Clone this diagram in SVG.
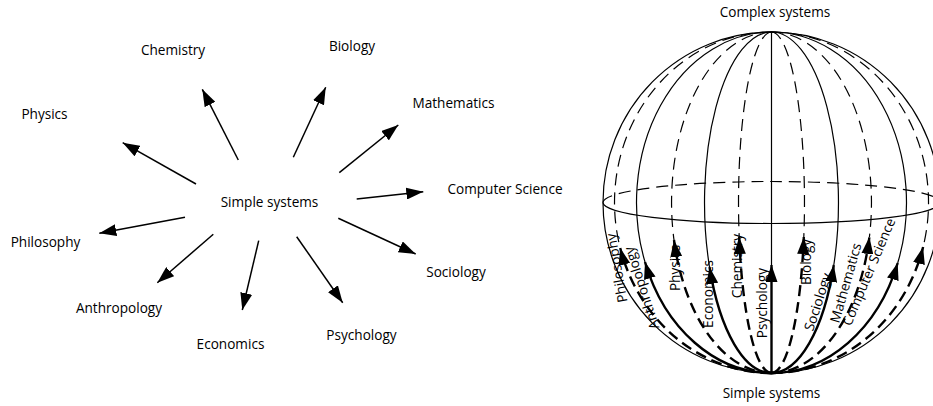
<svg xmlns="http://www.w3.org/2000/svg" width="933" height="406" viewBox="0 0 933 406">
<defs>
<style>
text{font-family:"Open Sans","Liberation Sans",sans-serif;font-size:13.6px;fill:#000;text-anchor:middle}
.arr{fill:none;stroke:#000;stroke-width:1.5;marker-end:url(#ah)}
.thin{fill:none;stroke:#000;stroke-width:1.2}
.thind{fill:none;stroke:#000;stroke-width:1.2;stroke-dasharray:12 7}
.thick{fill:none;stroke:#000;stroke-width:2.4;marker-end:url(#ah)}
.thickd{fill:none;stroke:#000;stroke-width:2.4;stroke-dasharray:11 6;marker-end:url(#ah)}
</style>
<marker id="ah" markerUnits="userSpaceOnUse" markerWidth="17" markerHeight="12" refX="17" refY="6" orient="auto">
<path d="M0,0 L17,6 L0,12 z" fill="#000"/>
</marker>
</defs>
<rect width="933" height="406" fill="#fff"/>

<!-- Left diagram -->
<g id="left-connectors">
<path class="arr" d="M196,184 L122.7,142.7"/>
<path class="arr" d="M238.3,160 L202.3,89.3"/>
<path class="arr" d="M293.3,157.3 L325.7,87.3"/>
<path class="arr" d="M339.3,172.7 L398.3,125"/>
<path class="arr" d="M356.7,199 L423.3,191.7"/>
<path class="arr" d="M185,217.3 L99.3,233.3"/>
<path class="arr" d="M213.3,234.3 L157.3,282.7"/>
<path class="arr" d="M258.7,240.7 L242.3,310"/>
<path class="arr" d="M296.7,236.7 L342.7,302.7"/>
<path class="arr" d="M338.3,218.3 L415.7,254"/>
</g>
<g id="l-simple"><text x="269.5" y="207">Simple systems</text></g>
<g id="l-chemistry"><text x="173" y="55">Chemistry</text></g>
<g id="l-biology"><text x="352" y="51">Biology</text></g>
<g id="l-physics"><text x="44.5" y="119">Physics</text></g>
<g id="l-mathematics"><text x="453.5" y="108">Mathematics</text></g>
<g id="l-cs"><text x="505" y="194">Computer Science</text></g>
<g id="l-philosophy"><text x="45.5" y="247">Philosophy</text></g>
<g id="l-anthropology"><text x="119" y="313">Anthropology</text></g>
<g id="l-economics"><text x="230.5" y="349">Economics</text></g>
<g id="l-psychology"><text x="361.5" y="340">Psychology</text></g>
<g id="l-sociology"><text x="456" y="277">Sociology</text></g>

<!-- Sphere -->
<g id="sphere">
<ellipse class="thin" cx="771.5" cy="202.5" rx="168.5" ry="170.5"/>
<path class="thind" d="M603,202.5 A168.5,21 0 0 1 940,202.5"/>
<path class="thin" d="M603,202.5 A168.5,21 0 0 0 940,202.5"/>
<path class="thind" d="M771.5,32 A157,170.5 0 0 0 620.2,248"/>
<path class="thin" d="M771.5,32 A135,170.5 0 0 0 645,262"/>
<path class="thind" d="M771.5,32 A100,170.5 0 0 0 674,240"/>
<path class="thin" d="M771.5,32 A67,170.5 0 0 0 709.5,267"/>
<path class="thind" d="M771.5,32 A33,170.5 0 0 0 739.2,237"/>
<path class="thin" d="M771.5,32 L771.5,265"/>
<path class="thind" d="M771.5,32 A33,170.5 0 0 1 803.8,237"/>
<path class="thin" d="M771.5,32 A67,170.5 0 0 1 833.8,265"/>
<path class="thind" d="M771.5,32 A100,170.5 0 0 1 869.4,237"/>
<path class="thin" d="M771.5,32 A135,170.5 0 0 1 897.7,263"/>
<path class="thind" d="M771.5,32 A157,170.5 0 0 1 923.1,247"/>
</g>
<g id="sphere-connectors">
<path class="thickd" d="M771.5,373 A157,170.5 0 0 1 620.2,248"/>
<path class="thick" d="M771.5,373 A135,170.5 0 0 1 645,262"/>
<path class="thickd" d="M771.5,373 A100,170.5 0 0 1 674,240"/>
<path class="thick" d="M771.5,373 A67,170.5 0 0 1 709.5,267"/>
<path class="thickd" d="M771.5,373 A33,170.5 0 0 1 739.2,237"/>
<path class="thick" d="M771.5,373 L771.5,265"/>
<path class="thickd" d="M771.5,373 A33,170.5 0 0 0 803.8,237"/>
<path class="thick" d="M771.5,373 A67,170.5 0 0 0 833.8,265"/>
<path class="thickd" d="M771.5,373 A100,170.5 0 0 0 869.4,237"/>
<path class="thick" d="M771.5,373 A135,170.5 0 0 0 897.7,263"/>
<path class="thickd" d="M771.5,373 A157,170.5 0 0 0 923.1,247"/>
</g>
<g id="s-complex"><text x="775" y="17">Complex systems</text></g>
<g id="s-simple"><text x="771.5" y="398">Simple systems</text></g>
<g id="s-philosophy"><text transform="translate(617,268) rotate(-100)" y="4.5">Philosophy</text></g>
<g id="s-anthropology"><text transform="translate(642,288) rotate(-108)" y="4.5">Anthropology</text></g>
<g id="s-physics"><text transform="translate(675,268) rotate(-90)" y="4.5">Physics</text></g>
<g id="s-economics"><text transform="translate(708,294) rotate(-90)" y="4.5">Economics</text></g>
<g id="s-chemistry"><text transform="translate(737,266) rotate(-90)" y="4.5">Chemistry</text></g>
<g id="s-psychology"><text transform="translate(762,303) rotate(-90)" y="4.5">Psychology</text></g>
<g id="s-biology"><text transform="translate(806,262) rotate(-90)" y="4.5">Biology</text></g>
<g id="s-sociology"><text transform="translate(818,302) rotate(-72)" y="4.5">Sociology</text></g>
<g id="s-mathematics"><text transform="translate(846,283) rotate(-74)" y="4.5">Mathematics</text></g>
<g id="s-cs"><text transform="translate(869,272) rotate(-67)" y="4.5">Computer Science</text></g>
</svg>
